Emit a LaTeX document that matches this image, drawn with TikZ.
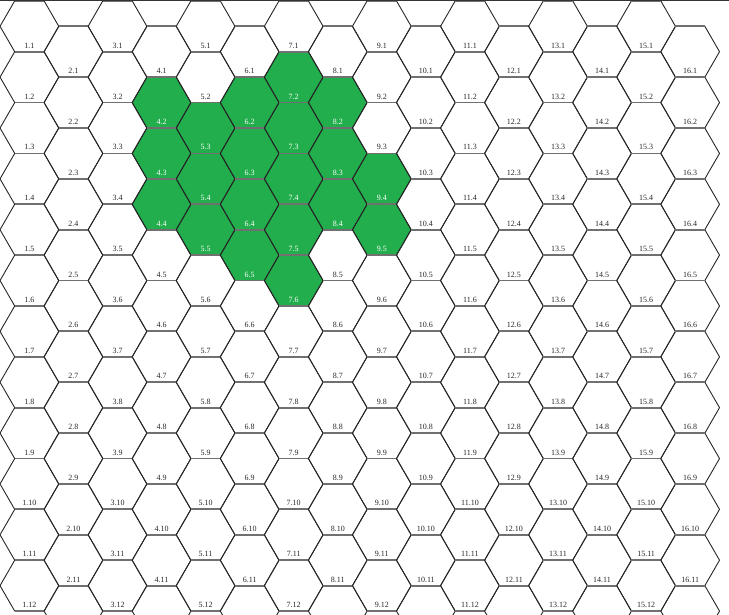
\documentclass[tikz,border=0pt]{standalone}
\usepackage{fontspec}
\setmainfont{Liberation Serif}
\definecolor{hexgreen}{RGB}{34,174,76}
\definecolor{edgegray}{RGB}{112,112,112}
\tikzset{
  slant/.style={black!85, line width=0.9pt, line cap=round},
  flat/.style={edgegray, line width=1.8pt},
  lbl/.style={font=\fontsize{8}{9}\selectfont, inner sep=0pt, text=black!85},
  lblg/.style={lbl, text=white},
  topframe/.style={black!80, line width=1pt},
}
\foreach \g in {4-2,4-3,4-4,5-3,5-4,5-5,6-2,6-3,6-4,6-5,7-2,7-3,7-4,7-5,7-6,8-2,8-3,8-4,9-4,9-5}{%
  \global\expandafter\def\csname hexg-\g\endcsname{1}}
\begin{document}
\begin{tikzpicture}[x=1pt,y=-1pt]
\useasboundingbox (0,0) rectangle (729,615);
\begin{scope}
\clip (0,0) rectangle (729,615);
\def\S{29.37}
\def\H{25.43}
% fills
\foreach \c in {1,...,16}{
  \foreach \r in {1,...,12}{
    \pgfmathsetmacro\cx{29.4+(\c-1)*44.05}
    \pgfmathsetmacro\cy{26.3+(\r-1)*50.85+(mod(\c,2)==0 ? 25.42 : 0)}
    \ifcsname hexg-\c-\r\endcsname
      \fill[hexgreen, shift={(\cx,\cy)}] (-\S,0) -- (-\S/2,-\H) -- (\S/2,-\H) -- (\S,0) -- (\S/2,\H) -- (-\S/2,\H) -- cycle;
    \fi
  }
}
% edges
\foreach \c in {1,...,16}{
  \foreach \r in {1,...,12}{
    \pgfmathsetmacro\cx{29.4+(\c-1)*44.05}
    \pgfmathsetmacro\cy{26.3+(\r-1)*50.85+(mod(\c,2)==0 ? 25.42 : 0)}
    \begin{scope}[shift={(\cx,\cy)}]
      \draw[slant] (-\S/2,-\H) -- (-\S,0) -- (-\S/2,\H);
      \draw[slant] (\S/2,-\H) -- (\S,0) -- (\S/2,\H);
      \draw[flat] (-\S/2,-\H) -- (\S/2,-\H);
      \draw[flat] (-\S/2,\H) -- (\S/2,\H);
    \end{scope}
  }
}
% labels (even columns: rows 1-11 only, row 12 lies below the frame)
\foreach \c in {1,...,16}{
  \pgfmathtruncatemacro\rmax{mod(\c,2)==0 ? 11 : 12}
  \foreach \r in {1,...,\rmax}{
    \pgfmathsetmacro\cx{29.4+(\c-1)*44.05}
    \pgfmathsetmacro\cy{26.3+(\r-1)*50.85+(mod(\c,2)==0 ? 25.42 : 0)+19.4}
    \ifcsname hexg-\c-\r\endcsname
      \node[lblg] (l-\c-\r) at (\cx,\cy) {\c.\r};
    \else
      \node[lbl] (l-\c-\r) at (\cx,\cy) {\c.\r};
    \fi
  }
}
\end{scope}
\draw[topframe] (0,0.5) -- (729,0.5);
\end{tikzpicture}
\end{document}
